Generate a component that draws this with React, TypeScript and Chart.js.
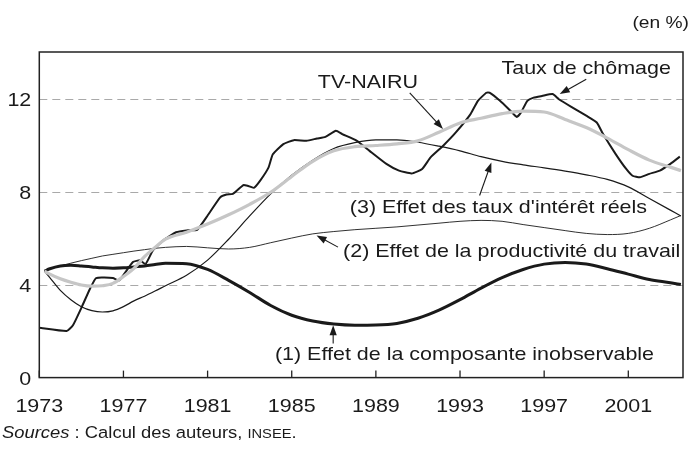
import { useEffect, useRef } from "react";
import { Chart, registerables } from "chart.js";

Chart.register(...registerables);

// ---------- DATA ----------
const SMOOTH_YEARS = [
  1973.25, 1973.5, 1974, 1974.5, 1975, 1975.5, 1976, 1976.5, 1977, 1977.5, 1978, 1978.5,
  1979, 1980, 1981, 1982, 1983, 1984, 1985, 1986, 1987, 1988, 1989, 1990, 1991, 1992,
  1993, 1994, 1995, 1996, 1997, 1998, 1999, 2000, 2001, 2002, 2003, 2003.5,
];
const TV_NAIRU = [
  4.58, 4.45, 4.25, 4.1, 3.98, 3.93, 3.95, 4.05, 4.35, 4.7, 5.2, 5.6,
  5.95, 6.25, 6.6, 7.0, 7.45, 7.97, 8.65, 9.3, 9.75, 9.93, 9.98, 10.05, 10.18, 10.55,
  10.95, 11.15, 11.35, 11.46, 11.42, 11.1, 10.75, 10.3, 9.8, 9.35, 9.05, 8.9,
];
const EFFET_TAUX = [
  4.58, 4.3, 3.75, 3.35, 3.05, 2.88, 2.82, 2.87, 3.05, 3.3, 3.5, 3.72,
  3.95, 4.4, 5.05, 5.95, 6.95, 7.9, 8.7, 9.35, 9.85, 10.1, 10.22, 10.22, 10.12, 9.95,
  9.75, 9.5, 9.3, 9.15, 9.02, 8.88, 8.72, 8.52, 8.2, 7.7, 7.2, 6.95,
];
const EFFET_PRODUCTIVITE = [
  4.58, 4.68, 4.8, 4.92, 5.03, 5.13, 5.23, 5.3, 5.37, 5.44, 5.5, 5.56,
  5.6, 5.64, 5.58, 5.53, 5.6, 5.8, 6.0, 6.18, 6.28, 6.36, 6.42, 6.48, 6.56, 6.64,
  6.72, 6.76, 6.72, 6.58, 6.45, 6.32, 6.2, 6.15, 6.2, 6.42, 6.78, 6.97,
];
const EFFET_INOBSERVABLE = [
  4.58, 4.68, 4.8, 4.83, 4.8, 4.76, 4.72, 4.7, 4.72, 4.76, 4.8, 4.86,
  4.92, 4.9, 4.65, 4.18, 3.66, 3.1, 2.68, 2.43, 2.3, 2.25, 2.26, 2.33, 2.55, 2.9,
  3.35, 3.85, 4.3, 4.65, 4.88, 4.95, 4.88, 4.68, 4.45, 4.22, 4.08, 4.0,
];
const CHOMAGE_YEARS = [
  1973.0, 1974.3, 1974.6, 1975.0, 1975.4, 1975.7, 1976.5, 1976.8, 1977.45, 1977.8, 1978.05,
  1978.4, 1978.9, 1979.5, 1980.0, 1980.5, 1980.95, 1981.6, 1981.9, 1982.2, 1982.7, 1982.9,
  1983.2, 1983.5, 1983.9, 1984.1, 1984.6, 1985.1, 1985.7, 1986.2, 1986.6, 1987.1, 1987.4,
  1988.1, 1988.7, 1989.5, 1990.1, 1990.7, 1991.2, 1991.6, 1992.2, 1992.8, 1993.5, 1993.85,
  1994.25, 1994.4, 1994.9, 1995.4, 1995.7, 1995.9, 1996.2, 1996.5, 1996.9, 1997.4, 1997.7,
  1998.35, 1999.0, 1999.5, 1999.8, 2000.4, 2000.9, 2001.2, 2001.55, 2002.0, 2002.5, 2003.0,
  2003.45,
];
const CHOMAGE = [
  2.14, 2.0, 2.25, 3.0, 3.8, 4.28, 4.28, 4.18, 4.97, 5.04, 4.88,
  5.47, 5.9, 6.25, 6.33, 6.35, 6.9, 7.75, 7.87, 7.9, 8.28, 8.25,
  8.16, 8.47, 9.04, 9.6, 10.04, 10.21, 10.18, 10.28, 10.35, 10.61, 10.47,
  10.18, 9.75, 9.19, 8.9, 8.78, 8.97, 9.47, 9.97, 10.54, 11.33, 11.9,
  12.25, 12.25, 11.9, 11.47, 11.21, 11.4, 11.9, 12.04, 12.11, 12.19, 11.97,
  11.61, 11.26, 10.97, 10.47, 9.61, 8.97, 8.68, 8.61, 8.76, 8.9, 9.19,
  9.5,
];
const X_TICKS = [1973, 1977, 1981, 1985, 1989, 1993, 1997, 2001];
const Y_TICKS = [0, 4, 8, 12];
const GRID_VALUES = [4, 8, 12];
const X_MIN = 1973;
const X_MAX = 2003.6;
const Y_MIN = 0;
const Y_MAX = 14;

// annotations: text anchor and arrow in data coordinates
const ANNOTATIONS = [
  { text: "TV-NAIRU", tx: 1986.24, ty: 12.47, from: [1990.61, 12.24], to: [1992.19, 10.69] },
  { text: "Taux de chômage", tx: 1994.97, ty: 13.04, from: [1999.0, 12.83], to: [1997.74, 12.19] },
  { text: "(3) Effet des taux d'intérêt réels", tx: 1987.76, ty: 7.07, from: [1993.93, 7.83], to: [1994.49, 9.25] },
  { text: "(2) Effet de la productivité du travail", tx: 1987.44, ty: 5.19, from: [1987.2, 5.61], to: [1986.18, 6.11] },
  { text: "(1) Effet de la composante inobservable", tx: 1984.2, ty: 0.754, from: [1986.97, 1.47], to: [1986.97, 2.25] },
];

// ---------- STYLE ----------
const FONT = '"Liberation Sans", Arial, Helvetica, sans-serif';
const SX = 1.13; // horizontal stretch of the reference text
const INK = "#1a1a1a";

function drawText(
  ctx: CanvasRenderingContext2D,
  text: string,
  x: number,
  y: number,
  size: number,
  align: "left" | "right" | "center" = "left",
  style = ""
) {
  ctx.save();
  ctx.font = `${style} ${size}px ${FONT}`;
  const w = ctx.measureText(text).width * SX;
  let x0 = x;
  if (align === "right") x0 = x - w;
  else if (align === "center") x0 = x - w / 2;
  ctx.translate(x0, y);
  ctx.scale(SX, 1);
  ctx.textAlign = "left";
  ctx.textBaseline = "alphabetic";
  ctx.fillStyle = INK;
  ctx.fillText(text, 0, 0);
  ctx.restore();
  return w;
}

function drawArrow(ctx: CanvasRenderingContext2D, x1: number, y1: number, x2: number, y2: number) {
  const ang = Math.atan2(y2 - y1, x2 - x1);
  const L = 10;
  const H = 3.6;
  ctx.save();
  ctx.strokeStyle = INK;
  ctx.fillStyle = INK;
  ctx.lineWidth = 1.1;
  ctx.beginPath();
  ctx.moveTo(x1, y1);
  ctx.lineTo(x2 - Math.cos(ang) * L * 0.8, y2 - Math.sin(ang) * L * 0.8);
  ctx.stroke();
  ctx.beginPath();
  ctx.moveTo(x2, y2);
  ctx.lineTo(x2 - Math.cos(ang) * L - Math.sin(ang) * H, y2 - Math.sin(ang) * L + Math.cos(ang) * H);
  ctx.lineTo(x2 - Math.cos(ang) * L + Math.sin(ang) * H, y2 - Math.sin(ang) * L - Math.cos(ang) * H);
  ctx.closePath();
  ctx.fill();
  ctx.restore();
}

const decorPlugin = {
  id: "decor",
  beforeDraw(chart: any) {
    const ctx = chart.ctx as CanvasRenderingContext2D;
    ctx.save();
    ctx.fillStyle = "#ffffff";
    ctx.fillRect(0, 0, chart.width, chart.height);
    ctx.restore();
  },
  beforeDatasetsDraw(chart: any) {
    const ctx = chart.ctx as CanvasRenderingContext2D;
    const { left, right } = chart.chartArea;
    const y = chart.scales.y;
    ctx.save();
    ctx.strokeStyle = "#a9a9a9";
    ctx.lineWidth = 1.2;
    ctx.setLineDash([8, 5]);
    for (const v of GRID_VALUES) {
      const py = Math.round(y.getPixelForValue(v)) + 0.5;
      ctx.beginPath();
      ctx.moveTo(left, py);
      ctx.lineTo(right, py);
      ctx.stroke();
    }
    ctx.restore();
  },
  afterDatasetsDraw(chart: any) {
    const ctx = chart.ctx as CanvasRenderingContext2D;
    const { left, right, top, bottom } = chart.chartArea;
    const xs = chart.scales.x;
    const ys = chart.scales.y;

    // frame
    ctx.save();
    ctx.strokeStyle = "#222222";
    ctx.lineWidth = 1.5;
    ctx.strokeRect(left, top, right - left, bottom - top);
    // inward x ticks
    ctx.lineWidth = 1.3;
    for (const t of X_TICKS) {
      const px = xs.getPixelForValue(t);
      ctx.beginPath();
      ctx.moveTo(px, bottom);
      ctx.lineTo(px, bottom - 7);
      ctx.stroke();
    }
    ctx.restore();

    // tick labels
    for (const t of X_TICKS) {
      drawText(ctx, String(t), xs.getPixelForValue(t), bottom + 34, 19, "center");
    }
    for (const v of Y_TICKS) {
      drawText(ctx, String(v), left - 8, ys.getPixelForValue(v) + 7.3, 19, "right");
    }

    // annotations
    for (const a of ANNOTATIONS) {
      drawText(ctx, a.text, xs.getPixelForValue(a.tx), ys.getPixelForValue(a.ty), 19, "left");
      drawArrow(
        ctx,
        xs.getPixelForValue(a.from[0]),
        ys.getPixelForValue(a.from[1]),
        xs.getPixelForValue(a.to[0]),
        ys.getPixelForValue(a.to[1])
      );
    }

    // unit
    drawText(ctx, "(en %)", 689, 28, 17, "right");

    // sources
    let x = 2;
    const by = 438.3;
    x += drawText(ctx, "Sources", x, by, 16.3, "left", "italic");
    x += drawText(ctx, " : Calcul des auteurs, ", x, by, 16.3, "left");
    x += drawText(ctx, "INSEE", x, by, 13, "left");
    drawText(ctx, ".", x, by, 16.3, "left");
  },
};

function pts(xs: number[], ys: number[]) {
  return xs.map((x, i) => ({ x, y: ys[i] }));
}

export default function App() {
  const ref = useRef<HTMLCanvasElement | null>(null);

  useEffect(() => {
    if (!ref.current) return;
    const chart = new Chart(ref.current, {
      type: "line",
      data: {
        datasets: [
          {
            label: "TV-NAIRU",
            data: pts(SMOOTH_YEARS, TV_NAIRU),
            borderColor: "#c6c6c6",
            borderWidth: 3.2,
            pointRadius: 0,
            cubicInterpolationMode: "monotone",
          },
          {
            label: "Taux de chômage",
            data: pts(CHOMAGE_YEARS, CHOMAGE),
            borderColor: INK,
            borderWidth: 2,
            pointRadius: 0,
            tension: 0.15,
          },
          {
            label: "(3) Effet des taux d'intérêt réels",
            data: pts(SMOOTH_YEARS, EFFET_TAUX),
            borderColor: INK,
            borderWidth: 1.2,
            pointRadius: 0,
            cubicInterpolationMode: "monotone",
          },
          {
            label: "(2) Effet de la productivité du travail",
            data: pts(SMOOTH_YEARS, EFFET_PRODUCTIVITE),
            borderColor: INK,
            borderWidth: 0.9,
            pointRadius: 0,
            cubicInterpolationMode: "monotone",
          },
          {
            label: "(1) Effet de la composante inobservable",
            data: pts(SMOOTH_YEARS, EFFET_INOBSERVABLE),
            borderColor: INK,
            borderWidth: 3,
            pointRadius: 0,
            cubicInterpolationMode: "monotone",
          },
        ],
      },
      options: {
        responsive: false,
        animation: false,
        devicePixelRatio: 1,
        events: [],
        layout: { padding: { top: 52, right: 13, left: 0, bottom: 0 } },
        plugins: { legend: { display: false }, tooltip: { enabled: false } },
        scales: {
          x: {
            type: "linear",
            min: X_MIN,
            max: X_MAX,
            ticks: { display: false },
            grid: { display: false, drawTicks: false },
            border: { display: false },
            afterFit: (s: any) => {
              s.height = 72.4;
            },
          },
          y: {
            min: Y_MIN,
            max: Y_MAX,
            ticks: { display: false },
            grid: { display: false, drawTicks: false },
            border: { display: false },
            afterFit: (s: any) => {
              s.width = 39.3;
            },
          },
        },
      },
      plugins: [decorPlugin],
    } as any);
    return () => chart.destroy();
  }, []);

  return (
    <div style={{ position: "fixed", left: 0, top: 0, width: 696, height: 450, background: "#fff" }}>
      <canvas ref={ref} width={696} height={450} style={{ display: "block" }} />
    </div>
  );
}
